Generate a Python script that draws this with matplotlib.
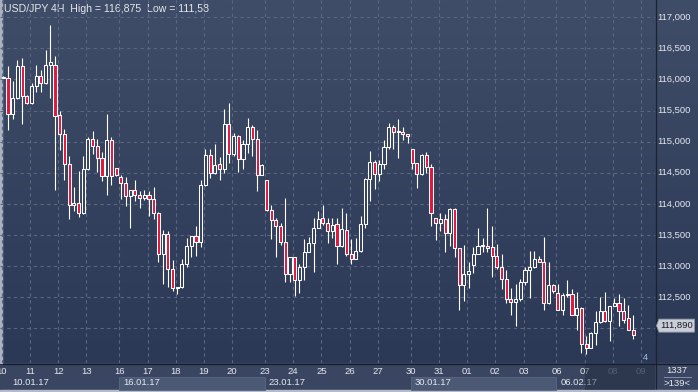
import numpy as np
import matplotlib.pyplot as plt
from matplotlib.patches import Rectangle, Polygon

# 4H candles, USD/JPY, 10.01.17 - 08.02.17
opens = [116.04, 116.02, 115.44, 115.71, 116.22, 115.73, 115.62, 115.89, 116.05, 115.95,
         116.24, 116.24, 115.43, 115.13, 114.64, 113.98, 114.02, 113.86, 114.56, 115.04,
         114.93, 114.73, 114.45, 115.03, 114.57, 114.43, 114.33, 114.12, 114.22, 114.14,
         114.10, 114.14, 114.08, 113.86, 113.20, 113.52, 112.95, 112.64, 112.67, 113.03,
         113.32, 113.49, 113.38, 114.30, 114.78, 114.49, 114.64, 114.56, 115.29, 114.80,
         115.09, 114.72, 114.97, 115.23, 115.04, 114.47, 114.38, 113.90, 113.74, 113.64,
         113.39, 112.88, 113.14, 112.78, 112.98, 113.22, 113.37, 113.61, 113.77, 113.69,
         113.56, 113.67, 113.32, 113.58, 113.19, 113.12, 113.25, 113.67, 114.40, 114.68,
         114.48, 114.64, 114.91, 115.23, 115.16, 115.15, 115.12, 114.88, 114.65, 114.48,
         114.79, 114.59, 113.78, 113.70, 113.76, 113.54, 113.92, 113.29, 112.69, 112.87,
         113.01, 113.19, 113.33, 113.33, 113.30, 113.17, 112.98, 112.80, 112.47, 112.42,
         112.47, 112.74, 112.94, 112.98, 113.12, 113.06, 112.40, 112.69, 112.56, 112.30,
         112.53, 112.55, 112.22, 112.33, 111.74, 111.69, 111.93, 112.10, 112.28, 112.12,
         112.36, 112.41, 112.28, 112.16, 111.98]
highs = [116.05, 116.22, 115.98, 116.31, 116.34, 115.75, 115.94, 116.23, 116.15, 116.47,
         116.875, 116.38, 115.50, 115.20, 114.77, 114.27, 114.53, 114.77, 115.08, 115.17,
         115.05, 114.84, 115.44, 115.07, 114.57, 114.47, 114.44, 114.22, 114.38, 114.20,
         114.22, 114.20, 114.27, 113.87, 113.58, 113.56, 113.10, 112.67, 113.12, 113.45,
         113.49, 113.65, 114.38, 114.88, 114.88, 114.96, 114.75, 115.52, 115.63, 115.14,
         115.11, 115.03, 115.38, 115.27, 115.19, 114.64, 114.39, 113.98, 113.77, 113.69,
         114.09, 113.14, 113.14, 113.04, 113.44, 113.47, 113.77, 113.89, 113.98, 113.78,
         113.78, 113.78, 113.93, 113.86, 113.43, 113.45, 113.80, 114.42, 114.85, 114.71,
         114.71, 115.03, 115.30, 115.27, 115.36, 115.24, 115.13, 114.88, 114.65, 114.81,
         114.83, 114.64, 113.78, 113.85, 113.84, 113.94, 113.94, 113.29, 113.34, 113.06,
         113.31, 113.61, 113.45, 113.94, 113.64, 113.36, 113.19, 112.94, 112.64, 112.71,
         112.80, 112.98, 113.25, 113.25, 113.16, 113.46, 113.07, 112.72, 112.71, 112.56,
         112.78, 112.63, 112.58, 112.35, 111.88, 111.94, 112.28, 112.50, 112.58, 112.36,
         112.48, 112.55, 112.48, 112.37, 112.22]
lows = [116.02, 115.19, 115.37, 115.69, 115.28, 115.60, 115.61, 115.80, 115.80, 115.93,
        115.71, 114.23, 114.86, 114.39, 113.75, 113.89, 113.79, 113.84, 114.55, 114.81,
        114.52, 114.36, 114.14, 114.30, 114.45, 114.08, 113.96, 113.61, 114.04, 113.93,
        114.06, 113.81, 113.76, 113.07, 112.72, 112.67, 112.60, 112.55, 112.64, 112.99,
        113.15, 113.17, 113.31, 114.29, 114.42, 114.48, 114.38, 114.50, 114.66, 114.77,
        114.52, 114.56, 114.82, 114.77, 114.20, 114.47, 113.89, 113.43, 113.15, 113.34,
        112.75, 112.75, 112.52, 112.56, 112.78, 113.22, 112.91, 113.61, 113.66, 113.37,
        113.45, 113.03, 113.31, 113.17, 113.04, 113.11, 113.22, 113.61, 114.05, 114.24,
        114.37, 114.56, 114.88, 114.89, 114.73, 115.03, 114.98, 114.56, 114.25, 114.47,
        114.49, 113.64, 113.42, 113.57, 113.23, 113.33, 113.15, 112.29, 112.44, 112.64,
        112.89, 113.19, 113.22, 113.23, 112.83, 112.95, 112.63, 112.41, 112.22, 112.04,
        112.44, 112.70, 112.49, 112.97, 113.06, 112.30, 112.39, 112.56, 112.29, 112.21,
        112.50, 112.22, 111.98, 111.61, 111.58, 111.69, 111.73, 112.08, 112.10, 111.80,
        112.36, 112.03, 112.08, 111.98, 111.83]
closes = [116.03, 115.44, 115.71, 116.22, 115.73, 115.62, 115.89, 116.05, 115.95, 116.24,
          116.28, 115.41, 115.13, 114.64, 113.98, 114.02, 113.86, 114.56, 115.04, 114.93,
          114.73, 114.45, 115.03, 114.45, 114.47, 114.33, 114.12, 114.22, 114.14, 114.09,
          114.14, 114.08, 113.86, 113.20, 113.51, 112.95, 112.64, 112.67, 113.03, 113.32,
          113.49, 113.38, 114.30, 114.78, 114.49, 114.62, 114.56, 115.29, 114.80, 115.09,
          114.72, 114.97, 115.23, 115.04, 114.47, 114.62, 113.90, 113.74, 113.64, 113.39,
          112.88, 113.14, 112.78, 112.98, 113.22, 113.37, 113.61, 113.75, 113.69, 113.56,
          113.66, 113.32, 113.59, 113.19, 113.12, 113.25, 113.67, 114.40, 114.68, 114.48,
          114.64, 114.91, 115.23, 115.16, 115.17, 115.12, 115.09, 114.65, 114.48, 114.79,
          114.59, 113.85, 113.70, 113.76, 113.54, 113.92, 113.29, 112.69, 112.87, 112.92,
          113.19, 113.33, 113.34, 113.29, 113.17, 112.98, 112.80, 112.47, 112.42, 112.47,
          112.74, 112.94, 112.98, 113.12, 113.06, 112.40, 112.69, 112.60, 112.30, 112.53,
          112.55, 112.22, 112.32, 111.74, 111.69, 111.93, 112.10, 112.28, 112.12, 112.36,
          112.40, 112.28, 112.13, 111.98, 111.89]

day_labels = ['10', '11', '12', '13', '16', '17', '18', '19', '20', '23', '24', '25', '26',
              '27', '30', '31', '01', '02', '03', '06', '07', '08', '09']
day_starts = [0, 6, 12, 18, 25, 31, 37, 43, 49, 56, 62, 68, 74, 80, 87, 93, 99, 105, 111,
              118, 124, 130, 136]
week_labels = ['10.01.17', '16.01.17', '23.01.17', '30.01.17', '06.02.17']
week_starts = [0, 25, 56, 87, 118]
price_ticks = [112.0, 112.5, 113.0, 113.5, 114.0, 114.5, 115.0, 115.5, 116.0, 116.5, 117.0]

RED = '#e3173e'
TXT = '#e4e8ee'
GRID = '#5a6782'
FONT = 'Liberation Sans'

W, H = 698, 392
fig = plt.figure(figsize=(W / 100, H / 100), dpi=100)

# background, in pixel coordinates
bg = fig.add_axes([0, 0, 1, 1])
bg.set_xlim(0, W)
bg.set_ylim(H, 0)
bg.axis('off')
top = np.array([64, 77, 104]) / 255
bot = np.array([43, 56, 86]) / 255
t = np.linspace(0, 1, 256)[:, None, None]
grad = np.repeat(top * (1 - t) + bot * t, 2, axis=1)
bg.imshow(grad, extent=[0, W, 363, 0], aspect='auto', zorder=0)
bg.add_patch(Rectangle((0, 363), W, 29, color='#3a4661', zorder=1))
bg.plot([655.5, 655.5], [0, H], color='#1b2234', lw=0.9, zorder=5)
bg.plot([0, W], [363.5, 363.5], color='#151b2a', lw=0.9, zorder=5)
bg.add_patch(Rectangle((0, 0), 2, 363, color='#a9b2c2', zorder=6))
bg.add_patch(Rectangle((0, 390), W, 2, color='#b4bccb', zorder=6))
bg.text(4, 8.5, 'USD/JPY 4H  High = 116,875  Low = 111,58', color=TXT, fontsize=7.6,
        family=FONT, va='center', ha='left', zorder=7)

# right bottom corner
bg.text(677, 370.5, '1337', color=TXT, fontsize=6.8, family=FONT,
        ha='center', va='center', zorder=7)
bg.plot([664, 691], [377, 377], color='#8590a6', lw=0.7, zorder=7)
bg.text(677, 383.5, '>139<', color=TXT, fontsize=6.8, family=FONT,
        ha='center', va='center', zorder=7)

# main chart
ax = fig.add_axes([0, 29 / H, 655 / W, 363 / H])
ax.set_facecolor('none')
xlim = (-3.3 / 4.7, (655 - 3.3) / 4.7)
ylim = (111.442, 117.278)
ax.set_xlim(xlim)
ax.set_ylim(ylim)
for s in ax.spines.values():
    s.set_visible(False)
ax.set_xticks([d - 0.3 for d in day_starts])
ax.set_yticks(price_ticks)
ax.tick_params(length=0, labelbottom=False, labelleft=False)
ax.grid(True, color=GRID, lw=0.8, ls=(0, (3, 3)))
ax.set_axisbelow(True)

bw = 0.64
for i, (o, h, l, c) in enumerate(zip(opens, highs, lows, closes)):
    lo_b, hi_b = min(o, c), max(o, c)
    ax.vlines(i, l, lo_b, color='white', lw=0.8, zorder=3)
    ax.vlines(i, hi_b, h, color='white', lw=0.8, zorder=3)
    face = RED if c < o else '#34425f'
    ax.add_patch(Rectangle((i - bw / 2, lo_b), bw, hi_b - lo_b, facecolor=face,
                           edgecolor='white', lw=0.75, zorder=4))

ax.text(136.6, 111.53, '4', color='#9cc6f0', fontsize=6.5, family=FONT,
        ha='center', va='center')

# right price axis
axr = fig.add_axes([655 / W, 29 / H, 43 / W, 363 / H])
axr.set_facecolor('none')
axr.set_xlim(0, 43)
axr.set_ylim(ylim)
axr.axis('off')
for p in price_ticks:
    axr.text(2.5, p, f'{p:.3f}'.replace('.', ','), color=TXT, fontsize=6.8,
             family=FONT, ha='left', va='center')

# last price tag
last = closes[-1]
ppx = (ylim[1] - ylim[0]) / 363
yc = last + 9.5 * ppx
pts = [(1.5, yc), (4, yc + 6.5 * ppx), (39.5, yc + 6.5 * ppx), (39.5, yc - 6.5 * ppx),
       (4, yc - 6.5 * ppx)]
axr.add_patch(Polygon(pts, closed=True, facecolor='#c9ced7', edgecolor='#8e97a6',
                      lw=0.6, zorder=5))
axr.text(21.5, yc, f'{last:.3f}'.replace('.', ','), color='#1a1d24', fontsize=6.8,
         family=FONT, ha='center', va='center', zorder=6)

# bottom time axis
axb = fig.add_axes([0, 0, 655 / W, 29 / H])
axb.set_facecolor('none')
axb.set_xlim(xlim)
axb.set_ylim(29, 0)
axb.axis('off')
for k, ws in enumerate(week_starts):
    if k % 2 == 1:
        we = week_starts[k + 1] if k + 1 < len(week_starts) else xlim[1]
        axb.add_patch(Rectangle((ws - 0.3, 14), we - ws, 13, facecolor='#4c5975',
                                edgecolor='#5a6782', lw=0.6))
    axb.text(max(ws + 0.5, 1.9), 19.8, week_labels[k], color=TXT, fontsize=6.8,
             family=FONT, ha='left', va='center')
for lab, ds in zip(day_labels, day_starts):
    col = TXT if ds < 130 else '#7e899e'
    axb.text(ds - 0.3, 8.2, lab, color=col, fontsize=6.8, family=FONT,
             ha='center', va='center')
axb.add_patch(Rectangle((123.7, 0), xlim[1] - 123.7, 27, facecolor='#1f283b',
                        alpha=0.45, edgecolor='none', zorder=5))

fig.savefig('out.png', dpi=100)
